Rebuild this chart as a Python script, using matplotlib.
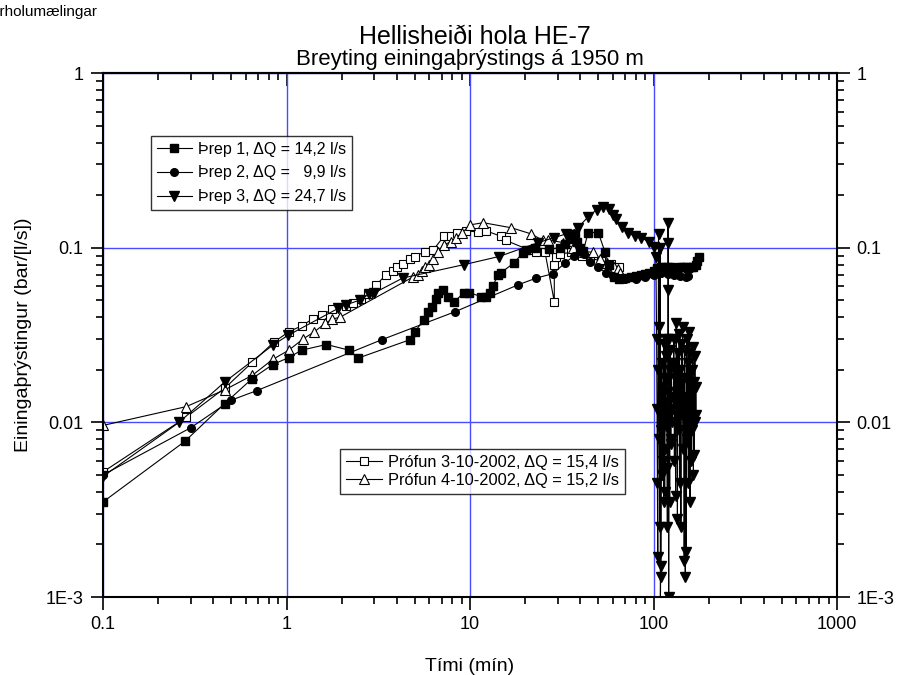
import numpy as np
from matplotlib import pyplot as plt
from matplotlib.ticker import LogLocator, NullFormatter

plt.rcParams['font.family'] = ['Liberation Sans', 'DejaVu Sans']

# Þrep 1 (filled squares)
t1 = [0.1, 0.28, 0.46, 0.65, 0.84, 1.03, 1.21, 1.65, 2.19, 2.45, 4.7, 5.0, 5.6, 5.9, 6.2,
      6.5, 6.7, 7.1, 7.6, 8.2, 9.26, 9.9, 11.5, 12.2, 12.9, 13.3, 14.2, 14.8, 17.4, 19.4,
      20.2, 22.5, 27, 31, 33, 35, 36.5, 37.5, 38.5, 40, 41.5, 44, 50, 54.5, 57, 61, 65,
      70, 75, 80, 85, 90, 95, 100, 105, 110, 115, 120, 125, 130, 135, 140, 145, 150, 155,
      160, 165, 170, 173, 176]
v1 = [0.0035, 0.0078, 0.0128, 0.0178, 0.0214, 0.0235, 0.0259, 0.0279, 0.0259, 0.0233,
      0.0297, 0.033, 0.0386, 0.0426, 0.046, 0.051, 0.055, 0.057, 0.052, 0.049, 0.0552,
      0.0552, 0.0525, 0.0525, 0.0552, 0.060, 0.070, 0.072, 0.082, 0.0935, 0.097, 0.1,
      0.098, 0.1, 0.105, 0.112, 0.116, 0.12, 0.108, 0.1, 0.096, 0.122, 0.122, 0.094, 0.08,
      0.068, 0.066, 0.067, 0.068, 0.069, 0.07, 0.071, 0.072, 0.074, 0.076, 0.077, 0.078,
      0.078, 0.077, 0.076, 0.076, 0.077, 0.077, 0.077, 0.076, 0.077, 0.078, 0.08, 0.084,
      0.088]

# Þrep 2 (filled circles)
t2 = [0.1, 0.3, 0.5, 0.69, 3.3, 8.3, 18.3, 23, 28.3, 33.1, 37, 40, 42, 45, 50, 55, 60,
      65, 70, 80, 90, 100, 110, 120, 130, 140, 150, 155]
v2 = [0.0050, 0.0093, 0.0134, 0.0152, 0.0297, 0.043, 0.0613, 0.067, 0.071, 0.082, 0.09,
      0.1, 0.092, 0.083, 0.077, 0.072, 0.069, 0.067, 0.066, 0.066, 0.068, 0.07, 0.072,
      0.071, 0.07, 0.069, 0.068, 0.069]

# Þrep 3 (filled down-triangles), smooth part then the noisy tail after ~100 min
t3 = [0.1, 0.26, 0.46, 0.84, 1.02, 1.92, 2.1, 2.5, 2.8, 3.0, 4.3, 9.3, 14.4, 23.6, 28.6,
      33.5, 38.7, 44, 49, 53, 57, 60, 62.5, 67, 73, 79, 86, 94, 100, 103,
      104, 104.5, 105, 105.5, 106, 106.5, 107, 107.5, 108, 108.5, 109, 109.5, 110, 110.5,
      111, 111.5, 112, 112.5, 113, 113.5, 114, 114.5, 115, 115.5, 116, 116.5, 117, 117.5,
      118, 118.5, 119, 119.5, 120, 120.3, 120.6, 121, 121.5, 122, 122.5, 123, 123.5, 124,
      124.5, 125, 125.5, 126,
      128, 129, 130, 131, 132, 133, 134, 135, 136, 137, 138, 139, 140, 141, 142, 143, 144,
      145, 146, 147, 148, 149, 150, 151, 152, 153, 154, 155, 156, 157, 158, 159, 160, 161,
      162, 163, 164, 165, 166, 167, 168, 169, 170, 171]
v3 = [0.0049, 0.0100, 0.0170, 0.0276, 0.0315, 0.045, 0.047, 0.050, 0.054, 0.055, 0.067,
      0.080, 0.089, 0.107, 0.114, 0.12, 0.13, 0.15, 0.165, 0.17, 0.167, 0.154, 0.145,
      0.132, 0.122, 0.116, 0.114, 0.108, 0.101, 0.089,
      0.03, 0.012, 0.0045, 0.0017, 0.02, 0.119, 0.035, 0.008, 0.0025, 0.1, 0.0009, 0.0015,
      0.0013, 0.009, 0.022, 0.005, 0.006, 0.016, 0.011, 0.0035, 0.028, 0.013, 0.004, 0.007,
      0.018, 0.024, 0.03, 0.0095, 0.012, 0.0055, 0.0025, 0.015, 0.139, 0.107, 0.057, 0.001,
      0.03, 0.018, 0.0035, 0.026, 0.02, 0.0075, 0.008, 0.022, 0.014, 0.01,
      0.012, 0.03, 0.006, 0.022, 0.0038, 0.037, 0.015, 0.0028, 0.025, 0.009, 0.032, 0.0045,
      0.02, 0.0025, 0.028, 0.011, 0.035, 0.007, 0.018, 0.0016, 0.026, 0.0013, 0.014,
      0.0018, 0.03, 0.008, 0.022, 0.0045, 0.033, 0.012, 0.0035, 0.025, 0.015, 0.006, 0.02,
      0.009, 0.027, 0.005, 0.017, 0.0065, 0.024, 0.01, 0.016, 0.011]

# Prófun 3-10-2002 (open squares)
t4 = [0.1, 0.284, 0.464, 0.652, 0.85, 1.03, 1.21, 1.40, 1.57, 1.76, 2.12, 2.3, 2.54, 2.78,
      3.07, 3.49, 3.8, 4.0, 4.3, 4.7, 5.0, 5.7, 6.3, 7.2, 7.9, 8.5, 9.5, 11.0, 12.2, 14.8,
      15.7, 21, 23, 25.6, 28.8, 28.8, 29.5, 31, 35.5, 40.6, 45, 52, 59, 65]
v4 = [0.0052, 0.0107, 0.0158, 0.0221, 0.0287, 0.033, 0.0357, 0.0393, 0.041, 0.0443, 0.0465,
      0.048, 0.051, 0.054, 0.061, 0.070, 0.074, 0.077, 0.081, 0.086, 0.089, 0.095, 0.097,
      0.116, 0.117, 0.122, 0.125, 0.123, 0.125, 0.116, 0.11, 0.097, 0.095, 0.095, 0.049,
      0.08, 0.089, 0.092, 0.094, 0.090, 0.087, 0.084, 0.081, 0.078]

# Prófun 4-10-2002 (open triangles)
t5 = [0.1, 0.284, 0.464, 0.652, 0.84, 1.03, 1.23, 1.42, 1.63, 1.78, 1.96, 4.9, 5.2, 5.5,
      5.7, 6.0, 6.3, 6.7, 7.2, 7.9, 8.4, 9.1, 10.0, 11.8, 16.8, 21.5, 25, 26.5, 32, 36.5,
      42, 47, 51, 56, 61, 64, 66]
v5 = [0.0096, 0.0123, 0.0154, 0.0186, 0.0229, 0.0259, 0.030, 0.033, 0.037, 0.039, 0.040,
      0.068, 0.070, 0.074, 0.077, 0.080, 0.086, 0.095, 0.104, 0.108, 0.114, 0.122, 0.135,
      0.139, 0.13, 0.12, 0.11, 0.111, 0.107, 0.1, 0.095, 0.094, 0.086, 0.082, 0.078,
      0.075, 0.072]

labels = ["Þrep 1, ΔQ = 14,2 l/s", "Þrep 2, ΔQ =   9,9 l/s", "Þrep 3, ΔQ = 24,7 l/s",
          "Prófun 3-10-2002, ΔQ = 15,4 l/s", "Prófun 4-10-2002, ΔQ = 15,2 l/s"]

fig = plt.figure(figsize=(8.97, 6.75), dpi=100)
ax = fig.add_axes([103/897, 1-597/675, (837-103)/897, (597-73)/675])

kw = dict(color="black", lw=0.8)
l4, = ax.plot(t4, v4, marker="s", ms=5.5, mfc="white", mec="black", mew=0.8, label=labels[3], **kw)
l5, = ax.plot(t5, v5, marker="^", ms=6.5, mfc="white", mec="black", mew=0.8, label=labels[4], **kw)
l1, = ax.plot(t1, v1, marker="s", ms=5.5, mfc="black", mec="black", label=labels[0], **kw)
l2, = ax.plot(t2, v2, marker="o", ms=5.5, mfc="black", mec="black", label=labels[1], **kw)
l3, = ax.plot(t3, v3, marker="v", ms=6.5, mfc="black", mec="black", label=labels[2], **kw)

ax.set_xscale("log")
ax.set_yscale("log")
ax.set_xlim(0.1, 1000)
ax.set_ylim(0.001, 1)

ax.set_xticks([0.1, 1, 10, 100, 1000])
ax.set_xticklabels(["0.1", "1", "10", "100", "1000"])
ax.set_yticks([0.001, 0.01, 0.1, 1])
ax.set_yticklabels(["1E-3", "0.01", "0.1", "1"])
ax.xaxis.set_minor_locator(LogLocator(base=10, subs=np.arange(2, 10)))
ax.yaxis.set_minor_locator(LogLocator(base=10, subs=np.arange(2, 10)))
ax.xaxis.set_minor_formatter(NullFormatter())
ax.yaxis.set_minor_formatter(NullFormatter())

ax.tick_params(which="both", direction="out", width=1.2, labelsize=13,
               left=True, right=True, bottom=True, top=False, labelright=True, pad=5)
ax.tick_params(which="major", length=9)
ax.tick_params(which="minor", length=5)
ax.xaxis.set_ticks_position("bottom")
for sp in ax.spines.values():
    sp.set_linewidth(1.5)

# top ticks point inwards
sec = ax.secondary_xaxis("top")
sec.set_xticks([0.1, 1, 10, 100, 1000])
sec.xaxis.set_minor_locator(LogLocator(base=10, subs=np.arange(2, 10)))
sec.xaxis.set_minor_formatter(NullFormatter())
sec.tick_params(which="both", direction="in", width=1.2, labeltop=False)
sec.tick_params(which="major", length=9)
sec.tick_params(which="minor", length=5)
sec.spines["top"].set_linewidth(1.5)

ax.grid(True, which="major", color="#4a4aff", lw=1.0)
ax.set_axisbelow(True)

ax.set_xlabel("Tími (mín)", fontsize=14, labelpad=18)
ax.set_ylabel("Einingaþrýstingur (bar/[l/s])", fontsize=14, labelpad=10)

fig.text(475/897, 1-37/675, "Hellisheiði hola HE-7", ha="center", va="center", fontsize=18)
fig.text(470/897, 1-60/675, "Breyting einingaþrýstings á 1950 m", ha="center", va="center", fontsize=16)
# page header, cut off by the left edge as in the original
fig.text(98/897, 1-12/675, "Borholumælingar", ha="right", va="center", fontsize=11)

lkw = dict(frameon=True, fancybox=False, edgecolor="black", handlelength=2.2,
           borderpad=0.35, handletextpad=0.4, borderaxespad=0)
leg1 = ax.legend(handles=[l1, l2, l3], loc="upper left", fontsize=11.5,
                 bbox_to_anchor=((151-103)/734, (597-136)/524), labelspacing=0.55, **lkw)
leg1.get_frame().set_linewidth(1.0)
ax.add_artist(leg1)
leg2 = ax.legend(handles=[l4, l5], loc="upper left", fontsize=11.8,
                 bbox_to_anchor=((340-103)/734, (597-449)/524), labelspacing=0.2, **lkw)
leg2.get_frame().set_linewidth(1.0)

fig.savefig("out.png", dpi=100)
